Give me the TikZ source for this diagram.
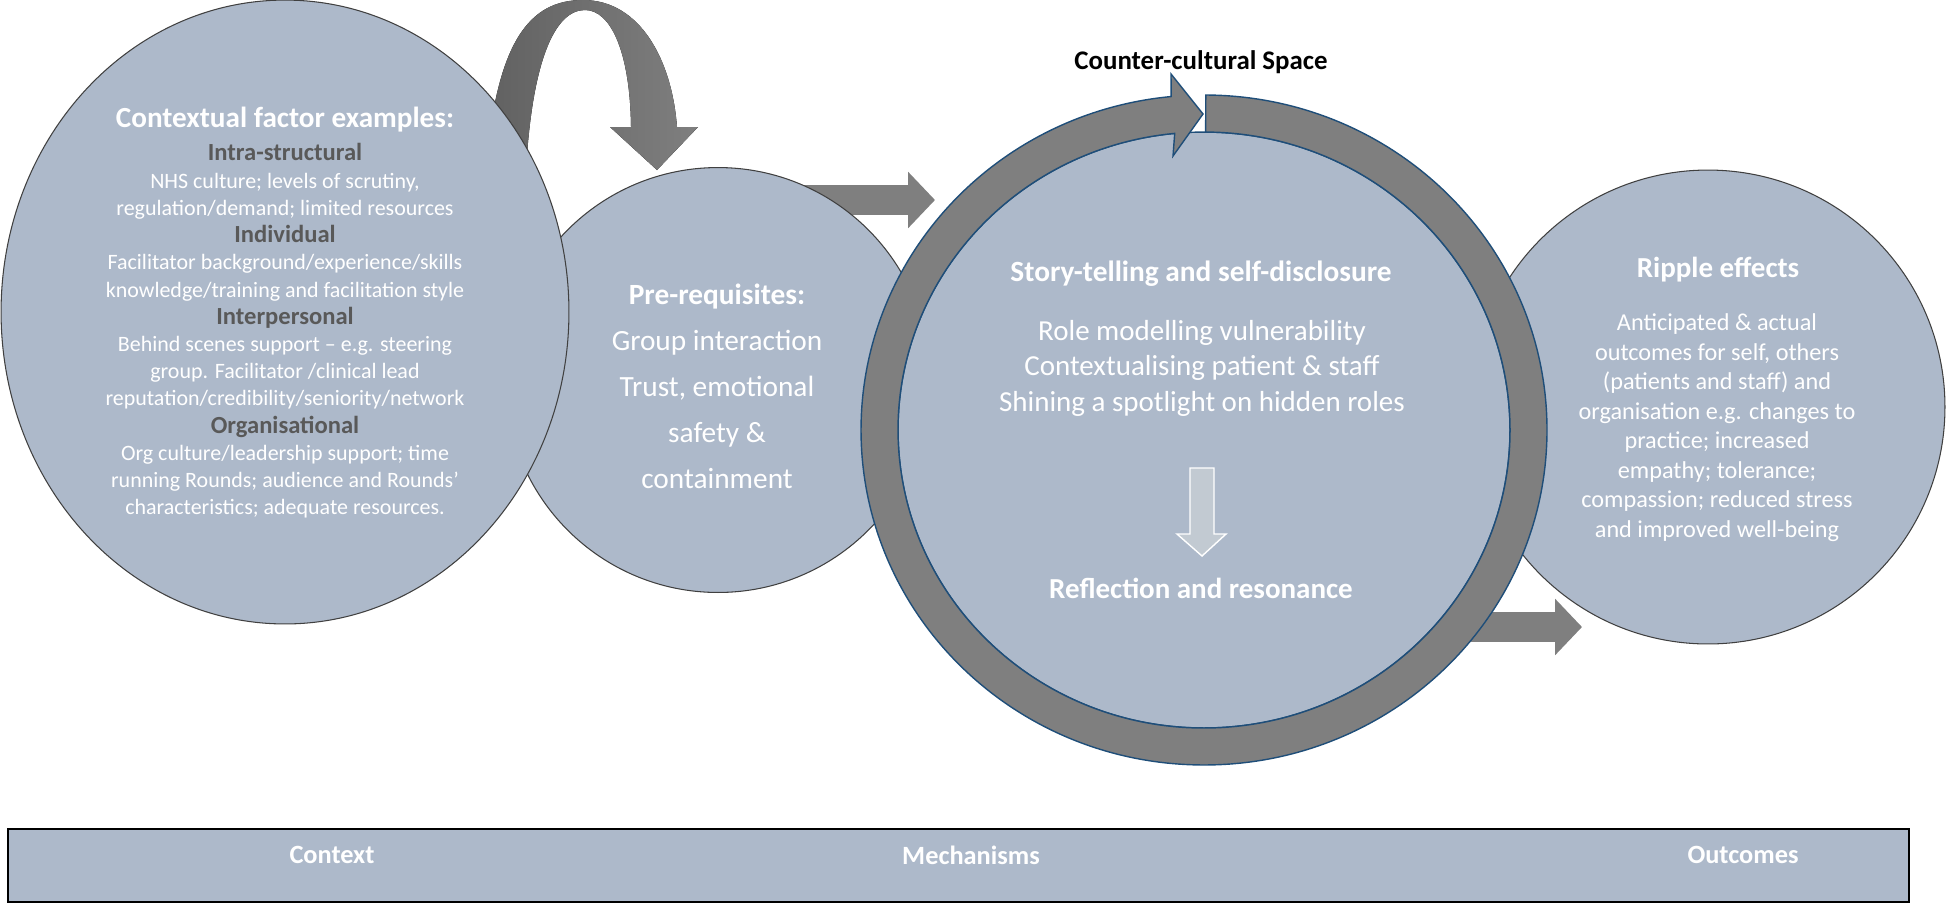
\documentclass[tikz,border=0pt]{standalone}
\usepackage{fontspec}
\setmainfont{Carlito}
\usetikzlibrary{arrows.meta,positioning,shapes.geometric}
\definecolor{bub}{HTML}{ADB9CA}
\definecolor{rim}{HTML}{404040}
\definecolor{band}{HTML}{7F7F7F}
\definecolor{navy}{HTML}{1F4E79}
\definecolor{subhd}{HTML}{595959}
\definecolor{dwn}{HTML}{C2CAD2}
\newcommand{\subhd}[1]{{\fontsize{14}{15.5}\selectfont\bfseries\textcolor{subhd}{#1}}}

\begin{document}
\begin{tikzpicture}[x=0.02cm,y=-0.02cm,
    bubble/.style={ellipse,draw=rim,fill=bub,line width=0.6pt,inner sep=0pt},
    txt/.style={text=white,align=center,inner sep=0pt},
    arr/.style={band,line width=17pt,-{Triangle[width=31.2pt,length=15.3pt]}},
]
\useasboundingbox (0,0) rectangle (1946,904);

% Curved arrow: context -> pre-requisites
\fill[left color=black!62,right color=band]
    (485,180) .. controls (495,40) and (530,0) .. (583,0)
    .. controls (640,0) and (672,60) .. (677,127) -- (698,127) -- (657,170) -- (610,127) -- (631,127)
    .. controls (630,50) and (610,10) .. (585,10)
    .. controls (555,10) and (530,60) .. (525,190) -- cycle;

% Straight arrows (behind the circles)
\coordinate (p2r-s) at (790,200);
\coordinate (p2r-e) at (935,200);
\coordinate (r2o-s) at (1440,627);
\coordinate (r2o-e) at (1582,627);
\draw[arr] (p2r-s) -- (p2r-e);
\draw[arr] (r2o-s) -- (r2o-e);

% Circles
\node[bubble,minimum width=8.5cm,minimum height=8.5cm] (pre) at (718,380) {};
\node[bubble,minimum width=11.36cm,minimum height=12.48cm] (ctx) at (285,312) {};
\node[bubble,minimum width=9.48cm,minimum height=9.48cm] (out) at (1708,407) {};

% Counter-cultural ring
\node[ellipse,draw=navy,fill=bub,line width=0.8pt,inner sep=0pt,minimum width=12.24cm,minimum height=11.92cm] (ring) at (1204,430) {};
\filldraw[fill=band,draw=navy,line width=0.8pt]
    (1205.8,95) arc[start angle=-89.7,end angle=264.5,x radius=343,y radius=335]
    -- (1171,74) -- (1203,114) -- (1173,156) -- (1174.7,133.4)
    arc[start angle=264.5,end angle=-89.7,x radius=306,y radius=298] -- cycle;
\filldraw[fill=dwn,draw=white,line width=0.8pt]
    (1190,468) -- (1214,468) -- (1214,534) -- (1226,534) -- (1202,556) -- (1177,534) -- (1190,534) -- cycle;

% Texts
\node[txt,font=\fontsize{16.6}{19}\selectfont\bfseries] (ctx-hd) at (285,120) {Contextual factor examples:};
\node[txt,font=\fontsize{12.5}{15.5}\selectfont] (ctx-txt) at (285,331) {%
    \subhd{Intra-structural}\\
    NHS culture; levels of scrutiny,\\
    regulation/demand; limited resources\\
    \subhd{Individual}\\
    Facilitator background/experience/skills\\
    knowledge/training and facilitation style\\
    \subhd{Interpersonal}\\
    Behind scenes support -- e.g. steering\\
    group. Facilitator /clinical lead\\
    reputation/credibility/seniority/network\\
    \subhd{Organisational}\\
    Org culture/leadership support; time\\
    running Rounds; audience and Rounds’\\
    characteristics; adequate resources.};
\node[txt,font=\fontsize{16.7}{26.2}\selectfont] (pre-txt) at (717,386.5) {%
    \textbf{Pre-requisites:}\\ Group interaction\\ Trust, emotional\\ safety \&\\ containment};
\node[font=\fontsize{15.3}{18}\selectfont\bfseries,inner sep=0pt] (ccs) at (1201,62) {Counter-cultural Space};
\node[txt,font=\fontsize{16.7}{19}\selectfont\bfseries] (story) at (1201,274) {Story-telling and self-disclosure};
\node[txt,font=\fontsize{16.5}{20.2}\selectfont] (mech-txt) at (1202,368) {%
    Role modelling vulnerability\\ Contextualising patient \& staff\\ Shining a spotlight on hidden roles};
\node[txt,font=\fontsize{16.5}{19}\selectfont\bfseries] (refl) at (1201,588) {Reflection and resonance};
\node[txt,font=\fontsize{16.5}{19}\selectfont\bfseries] (out-hd) at (1718,270) {Ripple effects};
\node[txt,font=\fontsize{13.8}{16.8}\selectfont] (out-txt) at (1717,427.5) {%
    Anticipated \& actual\\ outcomes for self, others\\ (patients and staff) and\\
    organisation e.g. changes to\\ practice; increased\\ empathy; tolerance;\\
    compassion; reduced stress\\ and improved well-being};

% Bottom bar
\node[draw=black,fill=bub,line width=1.4pt,minimum width=38.02cm,minimum height=1.46cm,inner sep=0pt] (bar) at (958.5,865.5) {};
\node[txt,font=\fontsize{15}{17}\selectfont\bfseries] (lab-ctx) at (332,855) {Context};
\node[txt,font=\fontsize{15}{17}\selectfont\bfseries] (lab-mech) at (971,855) {Mechanisms};
\node[txt,font=\fontsize{15}{17}\selectfont\bfseries] (lab-out) at (1743,855) {Outcomes};
\end{tikzpicture}
\end{document}
